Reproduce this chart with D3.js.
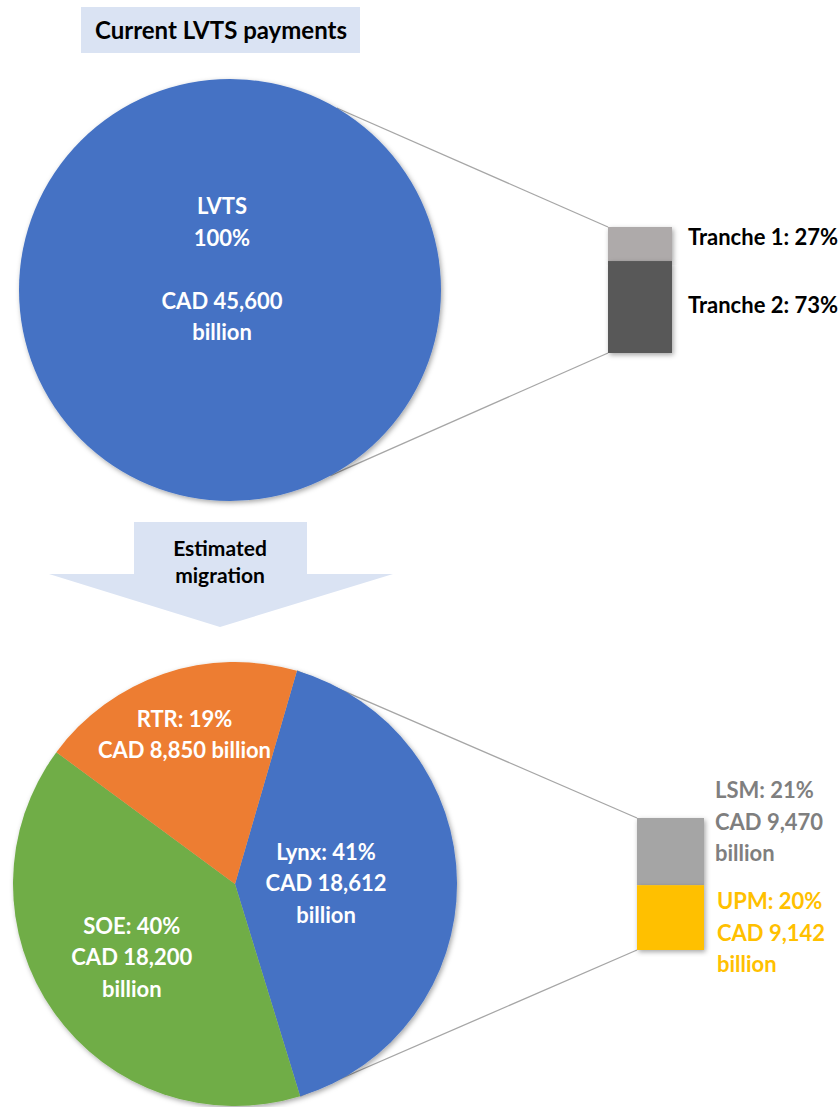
<!DOCTYPE html>
<html>
<head>
<meta charset="utf-8">
<script src="https://cdn.jsdelivr.net/npm/d3@7"></script>
<style>
  body { margin: 0; background: #fff; }
  text { font-family: "Lato", "Open Sans", sans-serif; font-weight: bold; }
</style>
</head>
<body>
<div id="chart"></div>
<script>
const WIDTH = 838;
const HEIGHT = 1107;

// data
const titleText = "Current LVTS payments";
const arrowText = ["Estimated", "migration"];

const topCategories = ["LVTS"];
const topValues = [45600];
const topLabel = ["LVTS", "100%", "", "CAD 45,600", "billion"];

const trancheCategories = ["Tranche 1", "Tranche 2"];
const tranchePct = [27, 73];

const pieCategories = ["Lynx", "SOE", "RTR"];
const pieValues = [18612, 18200, 8850];
const piePct = [41, 40, 19];
const pieLabels = [
    ["Lynx: 41%", "CAD 18,612", "billion"],
    ["SOE: 40%", "CAD 18,200", "billion"],
    ["RTR: 19%", "CAD 8,850 billion"]
];

const barCategories = ["LSM", "UPM"];
const barValues = [9470, 9142];
const barPct = [21, 20];
const barLabels = [
    ["LSM: 21%", "CAD 9,470", "billion"],
    ["UPM: 20%", "CAD 9,142", "billion"]
];

// styles
const pieColors = { Lynx: "#4472C4", SOE: "#70AD47", RTR: "#ED7D31", LVTS: "#4472C4" };
const trancheColors = ["#AEAAAA", "#595959"];
const barColors = ["#A5A5A5", "#FFC000"];
const barTextColors = ["#7F7F7F", "#FFC000"];
const LINE_H = 31.5;
const FS = 22;

const TOP = { cx: 230, cy: 290, r: 211 };
const BOT = { cx: 235, cy: 884, r: 222 };
const TOP_BAR = { x: 608, w: 64, y0: 227, y1: 353 };
const BOT_BAR = { x: 637, w: 67, y0: 818, y1: 950 };

const svg = d3.select("#chart")
    .append("svg")
    .attr("width", WIDTH)
    .attr("height", HEIGHT);

const defs = svg.append("defs");
defs.append("filter")
    .attr("id", "shadow")
    .attr("x", "-10%").attr("y", "-10%")
    .attr("width", "120%").attr("height", "120%")
    .append("feDropShadow")
    .attr("dx", 1.5).attr("dy", 2)
    .attr("stdDeviation", 2.5)
    .attr("flood-color", "#000")
    .attr("flood-opacity", 0.35);

const polar = (c, a, r) => [c.cx + r * Math.sin(a), c.cy - r * Math.cos(a)];

const multiline = (g, lines, x, y, color) => {
    const t = g.append("text")
        .attr("text-anchor", "middle")
        .attr("font-size", FS)
        .attr("fill", color);
    const y0 = y - (lines.length - 1) * LINE_H / 2 + 8;
    lines.forEach((l, i) => {
        t.append("tspan").attr("x", x).attr("y", y0 + i * LINE_H).text(l);
    });
};

// title box
svg.append("rect")
    .attr("x", 81).attr("y", 7)
    .attr("width", 279).attr("height", 46)
    .attr("fill", "#DAE3F3");
svg.append("text")
    .attr("x", 221).attr("y", 39)
    .attr("text-anchor", "middle")
    .attr("font-size", 24)
    .attr("fill", "#000")
    .text(titleText);

// ---- top pie ----
const topG = svg.append("g");
const topA = [30.4 * Math.PI / 180, 151.6 * Math.PI / 180];
[[topA[0], TOP_BAR.y0], [topA[1], TOP_BAR.y1]].forEach(([a, by]) => {
    const p = polar(TOP, a, TOP.r);
    topG.append("line")
        .attr("x1", p[0]).attr("y1", p[1])
        .attr("x2", TOP_BAR.x).attr("y2", by)
        .attr("stroke", "#A6A6A6").attr("stroke-width", 1.3);
});

const topPie = d3.pie().sort(null)(topValues);
const topArc = d3.arc().innerRadius(0).outerRadius(TOP.r);
topG.append("g")
    .attr("transform", `translate(${TOP.cx}, ${TOP.cy})`)
    .selectAll("path")
    .data(topPie)
    .enter()
    .append("path")
    .attr("d", topArc)
    .attr("fill", (d, i) => pieColors[topCategories[i]])
    .attr("filter", "url(#shadow)");
multiline(topG, topLabel, TOP.cx - 8, TOP.cy - 21, "#fff");

// tranche bar
const yTop = d3.scaleLinear().domain([0, d3.sum(tranchePct)]).range([TOP_BAR.y0, TOP_BAR.y1]);
const trStack = tranchePct.map((v, i) => ({ v, i, s: d3.sum(tranchePct.slice(0, i)) }));
topG.selectAll(".tranche")
    .data(trStack)
    .enter()
    .append("rect")
    .attr("class", "tranche")
    .attr("x", TOP_BAR.x)
    .attr("width", TOP_BAR.w)
    .attr("y", d => yTop(d.s))
    .attr("height", d => yTop(d.s + d.v) - yTop(d.s))
    .attr("fill", d => trancheColors[d.i])
    .attr("filter", "url(#shadow)");
topG.selectAll(".trLabel")
    .data(trStack)
    .enter()
    .append("text")
    .attr("class", "trLabel")
    .attr("x", 688)
    .attr("y", (d, i) => i === 0 ? 245 : 313)
    .attr("font-size", FS)
    .attr("fill", "#000")
    .text(d => `${trancheCategories[d.i]}: ${d.v}%`);

// ---- arrow ----
svg.append("polygon")
    .attr("points", "134,522 307,522 307,574 393,574 220,627 49,574 134,574")
    .attr("fill", "#DAE3F3");
const at = svg.append("text")
    .attr("text-anchor", "middle")
    .attr("font-size", 21)
    .attr("fill", "#000");
arrowText.forEach((l, i) => at.append("tspan").attr("x", 220).attr("y", 556 + i * 27).text(l));

// ---- bottom pie ----
const botG = svg.append("g");
const startA = 16.2 * Math.PI / 180;
const pie = d3.pie().sort(null).startAngle(startA).endAngle(startA + 2 * Math.PI);
const arcs = pie(pieValues);
const arc = d3.arc().innerRadius(0).outerRadius(BOT.r);

// connector lines to Lynx slice
const lynx = arcs[0];
[[lynx.startAngle, BOT_BAR.y0], [lynx.endAngle, BOT_BAR.y1]].forEach(([a, by]) => {
    const p = polar(BOT, a, BOT.r);
    botG.append("line")
        .attr("x1", p[0]).attr("y1", p[1])
        .attr("x2", BOT_BAR.x).attr("y2", by)
        .attr("stroke", "#A6A6A6").attr("stroke-width", 1.3);
});

const pg = botG.append("g")
    .attr("transform", `translate(${BOT.cx}, ${BOT.cy})`)
    .attr("filter", "url(#shadow)");
pg.selectAll("path")
    .data(arcs)
    .enter()
    .append("path")
    .attr("d", arc)
    .attr("fill", (d, i) => pieColors[pieCategories[i]]);

const labelR = [0.41, 0.57, 0.71];
arcs.forEach((d, i) => {
    const mid = (d.startAngle + d.endAngle) / 2;
    const p = polar(BOT, mid, BOT.r * labelR[i]);
    multiline(botG, pieLabels[i], p[0], p[1], "#fff");
});

// LSM / UPM bar
const yBot = d3.scaleLinear().domain([0, d3.sum(barValues)]).range([BOT_BAR.y0, BOT_BAR.y1]);
const barStack = barValues.map((v, i) => ({ v, i, s: d3.sum(barValues.slice(0, i)) }));
botG.selectAll(".bar")
    .data(barStack)
    .enter()
    .append("rect")
    .attr("class", "bar")
    .attr("x", BOT_BAR.x)
    .attr("width", BOT_BAR.w)
    .attr("y", d => yBot(d.s))
    .attr("height", d => yBot(d.s + d.v) - yBot(d.s))
    .attr("fill", d => barColors[d.i])
    .attr("filter", "url(#shadow)");

barStack.forEach(d => {
    const t = botG.append("text")
        .attr("font-size", FS)
        .attr("fill", barTextColors[d.i]);
    const y0 = d.i === 0 ? 798 : 909;
    barLabels[d.i].forEach((l, j) => {
        t.append("tspan").attr("x", 715 + d.i * 2).attr("y", y0 + j * 31.5).text(l);
    });
});
</script>
</body>
</html>
